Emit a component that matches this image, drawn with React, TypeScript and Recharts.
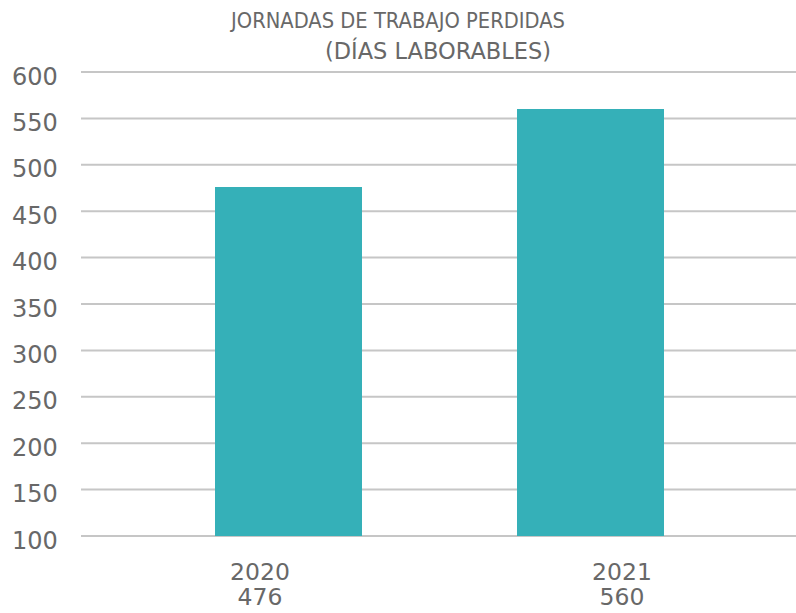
import { BarChart, Bar, XAxis, YAxis, CartesianGrid } from 'recharts'

const years = ['2020', '2021']
const lostDays = [476, 560]
const yTicks = [100, 150, 200, 250, 300, 350, 400, 450, 500, 550, 600]
const titleLines = ['JORNADAS DE TRABAJO PERDIDAS', '(DÍAS LABORABLES)']

const data = years.map((year, i) => ({ year, days: lostDays[i] }))

const FONT = '"DejaVu Sans", sans-serif'
const TEXT = '#686868'

const YTick = ({ y, payload }: any) => (
  <text x={12} y={y + 12.5} fill={TEXT} fontSize={24} fontFamily={FONT}>
    {payload.value}
  </text>
)

// two-line category label: year, then the value
const XTick = ({ x, y, payload, index }: any) => (
  <text textAnchor="middle" fill={TEXT} fontSize={23.5} fontFamily={FONT}>
    <tspan x={x} y={y + 14}>{payload.value}</tspan>
    <tspan x={x} y={y + 39}>{lostDays[index]}</tspan>
  </text>
)

export default function App() {
  return (
    <div style={{ position: 'absolute', left: 0, top: 0, width: 796, height: 613, background: '#fff' }}>
      <BarChart width={796} height={613} data={data} margin={{ top: 72, right: 0, bottom: 0, left: 0 }}>
        <CartesianGrid xAxisId="bars" vertical={false} stroke="#c6c6c6" strokeWidth={2} />
        <XAxis xAxisId="bars" dataKey="year" hide padding={{ left: 56, right: 55 }} />
        <XAxis
          xAxisId="labels"
          dataKey="year"
          height={77}
          axisLine={false}
          tickLine={false}
          tickSize={0}
          tickMargin={0}
          padding={{ left: -2, right: -7 }}
          tick={<XTick />}
        />
        <YAxis
          width={81}
          domain={[100, 600]}
          ticks={yTicks}
          axisLine={false}
          tickLine={false}
          tick={<YTick />}
        />
        <Bar xAxisId="bars" dataKey="days" fill="#35b0b8" barSize={147} isAnimationActive={false} />
      </BarChart>
      <svg width={796} height={70} style={{ position: 'absolute', left: 0, top: 0 }}>
        <text x={398} y={28} textAnchor="middle" fill={TEXT} fontSize={21.5} fontFamily={FONT}
          textLength={334} lengthAdjust="spacingAndGlyphs">
          {titleLines[0]}
        </text>
        <text x={438} y={58.5} textAnchor="middle" fill={TEXT} fontSize={22.5} fontFamily={FONT}>
          {titleLines[1]}
        </text>
      </svg>
    </div>
  )
}
